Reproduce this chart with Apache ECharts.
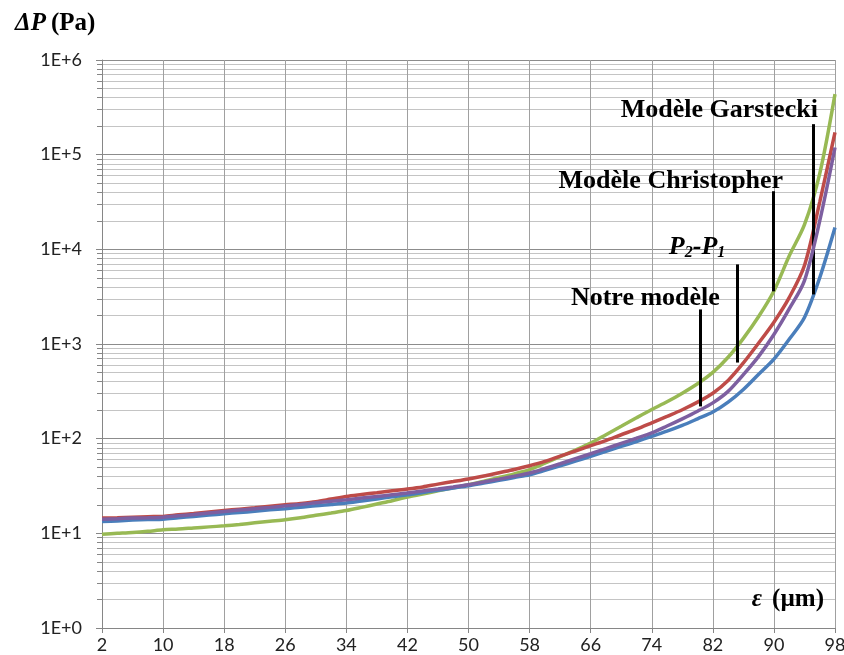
<!DOCTYPE html>
<html>
<head>
<meta charset="utf-8">
<script src="https://cdn.jsdelivr.net/npm/echarts@6/dist/echarts.min.js"></script>
<style>
  html, body { margin: 0; padding: 0; background: #fff; }
  #chart { width: 844px; height: 655px; }
</style>
</head>
<body>
<div id="chart"></div>
<script>
/* ------------------------------------------------------------------ */
/*  Delta P vs epsilon, log scale                                      */
/* ------------------------------------------------------------------ */
const epsilon = [2, 4, 6, 8, 10, 12, 14, 16, 18, 20, 22, 24, 26, 28, 30, 32, 34,
  36, 38, 40, 42, 44, 46, 48, 50, 52, 54, 56, 58, 60, 62, 64, 66, 68, 70, 72,
  74, 76, 78, 80, 82, 84, 86, 88, 90, 92, 94, 96, 98];

const garstecki = [13.3, 13.5, 13.8, 14.0, 14.1, 14.6, 15.1, 15.6, 16.1, 16.6,
  17.1, 17.7, 18.2, 18.8, 19.6, 20.2, 20.9, 22.0, 23.1, 24.3, 25.5, 27.0, 28.5,
  30.1, 31.8, 34.0, 36.3, 38.9, 41.6, 46.2, 51.6, 57.9, 65.0, 73.3, 82.8, 93.3,
  106, 120, 138, 162, 191, 243, 331, 479, 692, 1122, 1905, 5012, 16980];

const p2p1 = [14.5, 14.6, 14.8, 15.0, 15.1, 15.7, 16.2, 16.8, 17.4, 18.0, 18.6,
  19.3, 20.0, 20.7, 21.6, 23.0, 24.5, 25.7, 26.9, 28.2, 29.4, 30.9, 33.1, 35.2,
  37.5, 40.3, 43.7, 47.3, 51.8, 57.5, 65.3, 74.1, 84.3, 95.5, 110, 126, 147,
  172, 202, 243, 302, 412, 631, 1023, 1700, 3090, 6760, 31600, 171800];

const christopher = [9.8, 10.0, 10.2, 10.5, 10.9, 11.1, 11.4, 11.7, 12.0, 12.4,
  12.9, 13.4, 13.9, 14.6, 15.5, 16.4, 17.4, 18.8, 20.4, 22.1, 24.2, 26.0, 28.1,
  30.2, 32.6, 35.5, 38.9, 42.5, 47.0, 55.0, 64.6, 75.9, 89.9, 110, 135, 166,
  203, 245, 302, 380, 501, 724, 1148, 1950, 3630, 8510, 18200, 63100, 436500];

const notreModele = [14.1, 14.3, 14.5, 14.6, 14.8, 15.3, 15.8, 16.4, 17.0, 17.6,
  18.2, 18.8, 19.5, 20.2, 21.0, 21.8, 22.6, 23.6, 24.5, 25.5, 26.6, 28.0, 29.4,
  30.9, 32.6, 34.9, 37.4, 40.2, 43.4, 48.4, 54.3, 61.4, 69.3, 78.5, 89.1, 101,
  115, 136, 162, 195, 239, 316, 475, 741, 1259, 2344, 4677, 19950, 119100];

const xTicks = ['2', '10', '18', '26', '34', '42', '50', '58', '66', '74', '82', '90', '98'];
const yMajor = [1, 10, 100, 1000, 10000, 100000, 1000000];
const yMinor = [];
yMajor.slice(0, -1).forEach(d => {
  for (let k = 2; k <= 9; k++) yMinor.push(d * k);
});

// annotation pointers: [epsilon, low end, high end]
const ptrNotre = [80.3, 219, 2318];
const ptrP2P1 = [85.2, 637, 6930];
const ptrChristopher = [89.9, 3600, 41100];
const ptrGarstecki = [95.1, 3340, 210000];

const chart = echarts.init(document.getElementById('chart'));

const serif = '"Liberation Serif", "DejaVu Serif", serif';

const pointer = (p, label, offset) => ({
  silent: true,
  symbol: ['none', 'none'],
  lineStyle: { color: '#000', width: 3, type: 'solid' },
  label: {
    show: true,
    position: 'end',
    align: 'right',
    verticalAlign: 'bottom',
    distance: 4,
    offset: offset,
    formatter: label,
    color: '#000',
    fontFamily: serif,
    fontWeight: 'bold',
    fontSize: 26,
    rich: {
      p: { fontFamily: serif, fontStyle: 'italic', fontSize: 26, color: '#000' },
      s: { fontFamily: serif, fontStyle: 'italic', fontSize: 16, color: '#000',
           verticalAlign: 'bottom', lineHeight: 8 }
    }
  },
  emphasis: { disabled: true },
  data: [[{ coord: [p[0], p[1]] }, { coord: [p[0], p[2]] }]]
});

const makeSeries = (name, values, color, z, ptr) => ({
  name,
  type: 'line',
  data: epsilon.map((e, i) => [e, values[i]]),
  showSymbol: false,
  smooth: 0.3,
  lineStyle: { width: 3.5, color },
  itemStyle: { color },
  z,
  markLine: ptr
});

const titleRich = {
  i: { fontFamily: serif, fontStyle: 'italic', fontWeight: 'bold', fontSize: 25, color: '#000' },
  b: { fontFamily: serif, fontWeight: 'bold', fontSize: 25, color: '#000' }
};

chart.setOption({
  animation: false,
  title: [
    { text: '{i|ΔP} {b|(Pa)}', left: 10, top: 6, textStyle: { rich: titleRich } },
    { text: '{i|ε}  {b|(µm)}', right: 15, top: 582, textStyle: { rich: titleRich } }
  ],
  grid: { left: 102, right: 9, top: 60, bottom: 27, containLabel: false, outerBoundsMode: 'none' },
  xAxis: [
    {
      type: 'value',
      min: 2,
      max: 98,
      show: false
    },
    {
      type: 'category',
      data: xTicks,
      boundaryGap: false,
      position: 'bottom',
      axisLine: { show: true, lineStyle: { color: '#868686' } },
      axisTick: { show: true, length: 5, lineStyle: { color: '#868686' } },
      axisLabel: {
        color: '#222',
        fontFamily: 'Lato',
        fontSize: 18,
        margin: 8
      },
      splitLine: { show: true, lineStyle: { color: '#a0a0a0', width: 1 } }
    }
  ],
  yAxis: [
    {
      type: 'log',
      logBase: 10,
      min: 1,
      max: 1000000,
      axisLine: { show: true, lineStyle: { color: '#868686' } },
      axisTick: { show: true, customValues: yMajor, length: 6, lineStyle: { color: '#868686' } },
      axisLabel: {
        customValues: yMajor,
        color: '#222',
        fontFamily: 'Lato',
        fontSize: 18,
        margin: 20,
        formatter: v => '1E+' + Math.round(Math.log10(v))
      },
      splitLine: { show: true, lineStyle: { color: '#8c8c8c', width: 1 } }
    },
    {
      type: 'log',
      logBase: 10,
      min: 1,
      max: 1000000,
      position: 'left',
      axisLine: { show: false },
      axisTick: { show: true, customValues: yMinor, length: 5, lineStyle: { color: '#868686' } },
      axisLabel: { show: false },
      splitLine: { show: true, lineStyle: { color: '#c4c4c4', width: 1 } }
    }
  ],
  series: [
    makeSeries('Modèle Garstecki', garstecki, '#4a7ebb', 3,
      pointer(ptrGarstecki, 'Modèle Garstecki', [5, 3])),
    makeSeries('P2-P1', p2p1, '#be4b48', 4,
      pointer(ptrP2P1, '{p|P}{s|2}{p|-P}{s|1}', [-12, 0])),
    makeSeries('Modèle Christopher', christopher, '#98b954', 2,
      pointer(ptrChristopher, 'Modèle Christopher', [10, 7])),
    makeSeries('Notre modèle', notreModele, '#7d5fa0', 5,
      pointer(ptrNotre, 'Notre modèle', [20, 6]))
  ]
});
</script>
</body>
</html>
